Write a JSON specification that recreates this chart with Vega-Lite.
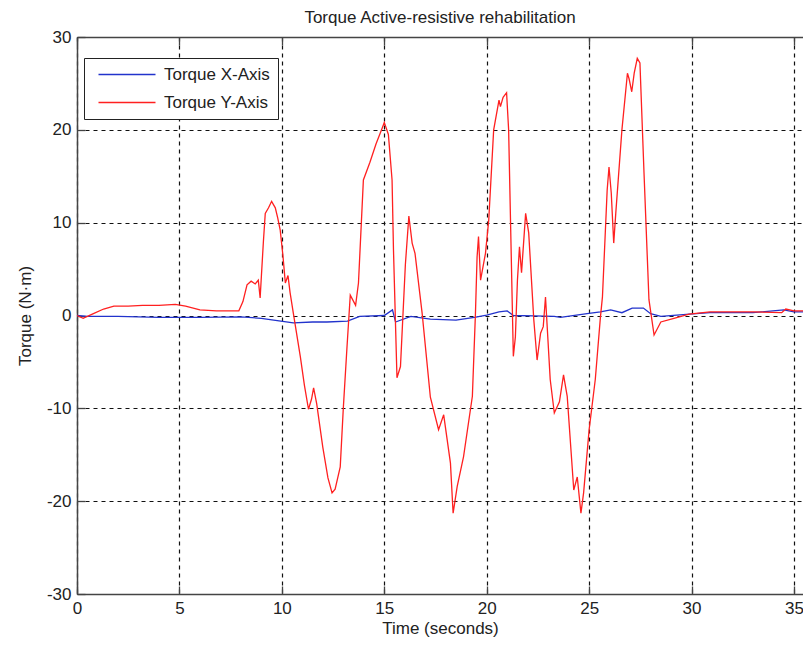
{
  "$schema": "https://vega.github.io/schema/vega-lite/v6.json",
  "width": 726,
  "height": 557,
  "autosize": {"type": "none"},
  "padding": {"left": 77, "top": 37, "right": 0, "bottom": 54},
  "background": "white",
  "title": {"text": "Torque Active-resistive rehabilitation", "font": "Liberation Sans", "fontSize": 17, "fontWeight": "normal", "color": "#222", "anchor": "middle", "offset": 1},
  "config": {
    "view": {"stroke": null},
    "axis": {"labelFont": "Liberation Sans", "labelFontSize": 17, "labelColor": "#222", "titleFont": "Liberation Sans", "titleFontSize": 17, "titleFontWeight": "normal", "titleColor": "#222", "domainColor": "#444", "domainWidth": 1.5, "tickColor": "#444", "tickWidth": 1.3, "gridColor": "#111", "gridDash": [4, 4], "gridWidth": 1.2, "gridOpacity": 1}
  },
  "data": {"values": [
    {"s": "Torque X-Axis", "t": 0, "v": 0},
    {"s": "Torque X-Axis", "t": 0.5, "v": -0.1},
    {"s": "Torque X-Axis", "t": 2, "v": -0.1},
    {"s": "Torque X-Axis", "t": 4, "v": -0.2},
    {"s": "Torque X-Axis", "t": 6, "v": -0.2},
    {"s": "Torque X-Axis", "t": 8, "v": -0.15},
    {"s": "Torque X-Axis", "t": 9, "v": -0.3},
    {"s": "Torque X-Axis", "t": 9.6, "v": -0.5},
    {"s": "Torque X-Axis", "t": 10.56, "v": -0.8},
    {"s": "Torque X-Axis", "t": 11.5, "v": -0.7},
    {"s": "Torque X-Axis", "t": 12.2, "v": -0.7},
    {"s": "Torque X-Axis", "t": 13.2, "v": -0.6},
    {"s": "Torque X-Axis", "t": 13.8, "v": -0.1},
    {"s": "Torque X-Axis", "t": 15.0, "v": 0},
    {"s": "Torque X-Axis", "t": 15.4, "v": 0.6},
    {"s": "Torque X-Axis", "t": 15.55, "v": -0.7},
    {"s": "Torque X-Axis", "t": 16.3, "v": -0.1},
    {"s": "Torque X-Axis", "t": 17.25, "v": -0.4},
    {"s": "Torque X-Axis", "t": 18.5, "v": -0.5},
    {"s": "Torque X-Axis", "t": 19.4, "v": -0.2},
    {"s": "Torque X-Axis", "t": 20.0, "v": 0.05},
    {"s": "Torque X-Axis", "t": 20.6, "v": 0.4},
    {"s": "Torque X-Axis", "t": 21.0, "v": 0.5},
    {"s": "Torque X-Axis", "t": 21.3, "v": 0},
    {"s": "Torque X-Axis", "t": 22.3, "v": -0.05},
    {"s": "Torque X-Axis", "t": 23.3, "v": -0.1},
    {"s": "Torque X-Axis", "t": 23.6, "v": -0.2},
    {"s": "Torque X-Axis", "t": 24.9, "v": 0.2},
    {"s": "Torque X-Axis", "t": 25.55, "v": 0.4},
    {"s": "Torque X-Axis", "t": 26.05, "v": 0.6},
    {"s": "Torque X-Axis", "t": 26.6, "v": 0.3},
    {"s": "Torque X-Axis", "t": 27.1, "v": 0.8},
    {"s": "Torque X-Axis", "t": 27.65, "v": 0.8},
    {"s": "Torque X-Axis", "t": 28.0, "v": 0.2},
    {"s": "Torque X-Axis", "t": 28.5, "v": -0.1},
    {"s": "Torque X-Axis", "t": 29.9, "v": 0.15},
    {"s": "Torque X-Axis", "t": 30.9, "v": 0.3},
    {"s": "Torque X-Axis", "t": 33, "v": 0.3},
    {"s": "Torque X-Axis", "t": 34.5, "v": 0.6},
    {"s": "Torque X-Axis", "t": 35, "v": 0.4},
    {"s": "Torque X-Axis", "t": 35.44, "v": 0.4},
    {"s": "Torque Y-Axis", "t": 0, "v": 0},
    {"s": "Torque Y-Axis", "t": 0.3, "v": -0.3},
    {"s": "Torque Y-Axis", "t": 0.8, "v": 0.2},
    {"s": "Torque Y-Axis", "t": 1.3, "v": 0.7},
    {"s": "Torque Y-Axis", "t": 1.8, "v": 1.0},
    {"s": "Torque Y-Axis", "t": 2.5, "v": 1.0},
    {"s": "Torque Y-Axis", "t": 3.2, "v": 1.1},
    {"s": "Torque Y-Axis", "t": 4.0, "v": 1.1},
    {"s": "Torque Y-Axis", "t": 4.8, "v": 1.2},
    {"s": "Torque Y-Axis", "t": 5.3, "v": 1.0},
    {"s": "Torque Y-Axis", "t": 6.0, "v": 0.6},
    {"s": "Torque Y-Axis", "t": 6.8, "v": 0.5},
    {"s": "Torque Y-Axis", "t": 7.5, "v": 0.5},
    {"s": "Torque Y-Axis", "t": 7.9, "v": 0.5},
    {"s": "Torque Y-Axis", "t": 8.1, "v": 1.5},
    {"s": "Torque Y-Axis", "t": 8.3, "v": 3.3},
    {"s": "Torque Y-Axis", "t": 8.5, "v": 3.7},
    {"s": "Torque Y-Axis", "t": 8.7, "v": 3.4},
    {"s": "Torque Y-Axis", "t": 8.85, "v": 3.8},
    {"s": "Torque Y-Axis", "t": 8.94, "v": 1.9},
    {"s": "Torque Y-Axis", "t": 9.0, "v": 4.2},
    {"s": "Torque Y-Axis", "t": 9.1, "v": 8},
    {"s": "Torque Y-Axis", "t": 9.19, "v": 11},
    {"s": "Torque Y-Axis", "t": 9.35, "v": 11.6},
    {"s": "Torque Y-Axis", "t": 9.5, "v": 12.3},
    {"s": "Torque Y-Axis", "t": 9.68, "v": 11.6},
    {"s": "Torque Y-Axis", "t": 9.8, "v": 10.5},
    {"s": "Torque Y-Axis", "t": 9.92, "v": 9.2},
    {"s": "Torque Y-Axis", "t": 10.05, "v": 6.5},
    {"s": "Torque Y-Axis", "t": 10.17, "v": 3.5},
    {"s": "Torque Y-Axis", "t": 10.3, "v": 4.3},
    {"s": "Torque Y-Axis", "t": 10.4, "v": 2.5},
    {"s": "Torque Y-Axis", "t": 10.56, "v": 0.25},
    {"s": "Torque Y-Axis", "t": 10.9, "v": -4.4},
    {"s": "Torque Y-Axis", "t": 11.1, "v": -7.5},
    {"s": "Torque Y-Axis", "t": 11.3, "v": -10.1},
    {"s": "Torque Y-Axis", "t": 11.45, "v": -9.0},
    {"s": "Torque Y-Axis", "t": 11.55, "v": -7.8},
    {"s": "Torque Y-Axis", "t": 11.7, "v": -9.5},
    {"s": "Torque Y-Axis", "t": 12.0, "v": -14.2},
    {"s": "Torque Y-Axis", "t": 12.25, "v": -17.5},
    {"s": "Torque Y-Axis", "t": 12.45, "v": -19.1},
    {"s": "Torque Y-Axis", "t": 12.6, "v": -18.7},
    {"s": "Torque Y-Axis", "t": 12.85, "v": -16.3},
    {"s": "Torque Y-Axis", "t": 13.0, "v": -10},
    {"s": "Torque Y-Axis", "t": 13.18, "v": -3.4},
    {"s": "Torque Y-Axis", "t": 13.34, "v": 2.2},
    {"s": "Torque Y-Axis", "t": 13.6, "v": 1.1},
    {"s": "Torque Y-Axis", "t": 13.74, "v": 3.5},
    {"s": "Torque Y-Axis", "t": 13.98, "v": 14.6},
    {"s": "Torque Y-Axis", "t": 14.3, "v": 16.5},
    {"s": "Torque Y-Axis", "t": 14.6, "v": 18.5},
    {"s": "Torque Y-Axis", "t": 14.9, "v": 20.2},
    {"s": "Torque Y-Axis", "t": 15.0, "v": 20.8},
    {"s": "Torque Y-Axis", "t": 15.2, "v": 19.5},
    {"s": "Torque Y-Axis", "t": 15.38, "v": 14.6},
    {"s": "Torque Y-Axis", "t": 15.45, "v": 7},
    {"s": "Torque Y-Axis", "t": 15.62, "v": -6.7},
    {"s": "Torque Y-Axis", "t": 15.79, "v": -5.5},
    {"s": "Torque Y-Axis", "t": 16.03, "v": 5.5},
    {"s": "Torque Y-Axis", "t": 16.2, "v": 10.7},
    {"s": "Torque Y-Axis", "t": 16.36, "v": 7.8},
    {"s": "Torque Y-Axis", "t": 16.5, "v": 6.7},
    {"s": "Torque Y-Axis", "t": 16.85, "v": 0.2},
    {"s": "Torque Y-Axis", "t": 17.25, "v": -8.8},
    {"s": "Torque Y-Axis", "t": 17.65, "v": -12.3},
    {"s": "Torque Y-Axis", "t": 17.9, "v": -10.7},
    {"s": "Torque Y-Axis", "t": 18.23, "v": -15.9},
    {"s": "Torque Y-Axis", "t": 18.36, "v": -21.3},
    {"s": "Torque Y-Axis", "t": 18.56, "v": -18.4},
    {"s": "Torque Y-Axis", "t": 18.87, "v": -15.2},
    {"s": "Torque Y-Axis", "t": 19.3, "v": -8.7},
    {"s": "Torque Y-Axis", "t": 19.45, "v": 0.2},
    {"s": "Torque Y-Axis", "t": 19.53, "v": 6.3},
    {"s": "Torque Y-Axis", "t": 19.6, "v": 8.5},
    {"s": "Torque Y-Axis", "t": 19.7, "v": 3.8},
    {"s": "Torque Y-Axis", "t": 19.94, "v": 6.7},
    {"s": "Torque Y-Axis", "t": 20.1, "v": 10.3},
    {"s": "Torque Y-Axis", "t": 20.34, "v": 20},
    {"s": "Torque Y-Axis", "t": 20.6, "v": 23.2},
    {"s": "Torque Y-Axis", "t": 20.67, "v": 22.5},
    {"s": "Torque Y-Axis", "t": 20.8, "v": 23.5},
    {"s": "Torque Y-Axis", "t": 20.97, "v": 24},
    {"s": "Torque Y-Axis", "t": 21.07, "v": 20},
    {"s": "Torque Y-Axis", "t": 21.3, "v": -4.4},
    {"s": "Torque Y-Axis", "t": 21.4, "v": -2.3},
    {"s": "Torque Y-Axis", "t": 21.5, "v": 3.8},
    {"s": "Torque Y-Axis", "t": 21.6, "v": 7.4},
    {"s": "Torque Y-Axis", "t": 21.7, "v": 4.6},
    {"s": "Torque Y-Axis", "t": 21.9, "v": 11},
    {"s": "Torque Y-Axis", "t": 22.05, "v": 8.9},
    {"s": "Torque Y-Axis", "t": 22.3, "v": -0.5},
    {"s": "Torque Y-Axis", "t": 22.46, "v": -4.8},
    {"s": "Torque Y-Axis", "t": 22.63, "v": -1.9},
    {"s": "Torque Y-Axis", "t": 22.76, "v": -1.2},
    {"s": "Torque Y-Axis", "t": 22.87, "v": 2},
    {"s": "Torque Y-Axis", "t": 23.1, "v": -6.9},
    {"s": "Torque Y-Axis", "t": 23.3, "v": -10.5},
    {"s": "Torque Y-Axis", "t": 23.55, "v": -9.3},
    {"s": "Torque Y-Axis", "t": 23.75, "v": -6.4},
    {"s": "Torque Y-Axis", "t": 23.93, "v": -8.7},
    {"s": "Torque Y-Axis", "t": 24.25, "v": -18.8},
    {"s": "Torque Y-Axis", "t": 24.42, "v": -17.4},
    {"s": "Torque Y-Axis", "t": 24.6, "v": -21.3},
    {"s": "Torque Y-Axis", "t": 24.73, "v": -19.1},
    {"s": "Torque Y-Axis", "t": 25.0, "v": -12.3},
    {"s": "Torque Y-Axis", "t": 25.3, "v": -6.9},
    {"s": "Torque Y-Axis", "t": 25.55, "v": -0.2},
    {"s": "Torque Y-Axis", "t": 25.65, "v": 2},
    {"s": "Torque Y-Axis", "t": 25.88, "v": 13.5},
    {"s": "Torque Y-Axis", "t": 25.97, "v": 16},
    {"s": "Torque Y-Axis", "t": 26.08, "v": 13.2},
    {"s": "Torque Y-Axis", "t": 26.2, "v": 7.8},
    {"s": "Torque Y-Axis", "t": 26.3, "v": 11},
    {"s": "Torque Y-Axis", "t": 26.6, "v": 20},
    {"s": "Torque Y-Axis", "t": 26.87, "v": 26.1},
    {"s": "Torque Y-Axis", "t": 26.95, "v": 25.5},
    {"s": "Torque Y-Axis", "t": 27.08, "v": 24.1},
    {"s": "Torque Y-Axis", "t": 27.2, "v": 26.1},
    {"s": "Torque Y-Axis", "t": 27.35, "v": 27.7},
    {"s": "Torque Y-Axis", "t": 27.48, "v": 27.2},
    {"s": "Torque Y-Axis", "t": 27.68, "v": 15.3},
    {"s": "Torque Y-Axis", "t": 27.92, "v": 1.7},
    {"s": "Torque Y-Axis", "t": 28.17, "v": -2.1},
    {"s": "Torque Y-Axis", "t": 28.5, "v": -0.7},
    {"s": "Torque Y-Axis", "t": 29.14, "v": -0.3},
    {"s": "Torque Y-Axis", "t": 29.88, "v": 0.15},
    {"s": "Torque Y-Axis", "t": 30.9, "v": 0.4},
    {"s": "Torque Y-Axis", "t": 33, "v": 0.4},
    {"s": "Torque Y-Axis", "t": 34.4, "v": 0.3},
    {"s": "Torque Y-Axis", "t": 34.6, "v": 0.7},
    {"s": "Torque Y-Axis", "t": 35, "v": 0.5},
    {"s": "Torque Y-Axis", "t": 35.44, "v": 0.5}
  ]},
  "layer": [
    {
      "mark": {"type": "line", "strokeWidth": 1.3},
      "encoding": {
        "x": {"field": "t", "type": "quantitative", "scale": {"domain": [0, 35.44], "nice": false, "zero": false}, "axis": {"title": "Time (seconds)", "values": [0, 5, 10, 15, 20, 25, 30, 35], "grid": true, "tickSize": -8, "labelPadding": 14, "titlePadding": 4, "labelFlush": false}},
        "y": {"field": "v", "type": "quantitative", "scale": {"domain": [-30, 30], "nice": false}, "axis": {"title": "Torque (N·m)", "values": [-30, -20, -10, 0, 10, 20, 30], "grid": true, "tickSize": -8, "labelPadding": 14, "titlePadding": 12, "labelFlush": false, "labelExpr": "replace(datum.label, '\u2212', '-')"}},
        "color": {"field": "s", "type": "nominal", "scale": {"domain": ["Torque X-Axis", "Torque Y-Axis"], "range": ["#2233cc", "#ff2020"]}, "legend": {"title": null, "orient": "none", "legendX": 7, "legendY": 21, "padding": 8, "strokeColor": "#222", "fillColor": "white", "symbolType": "M-0.4,0H11", "symbolSize": 100, "symbolStrokeWidth": 1.3, "labelOffset": 55, "labelFont": "Liberation Sans", "labelFontSize": 17, "labelColor": "#222", "rowPadding": 10}}
      }
    },
    {
      "mark": {"type": "line", "opacity": 0},
      "encoding": {
        "x": {"field": "t", "type": "quantitative", "axis": {"orient": "top", "title": null, "labels": false, "values": [0, 5, 10, 15, 20, 25, 30, 35], "grid": false, "tickSize": -8}},
        "y": {"field": "v", "type": "quantitative"}
      }
    }
  ],
  "resolve": {"axis": {"x": "independent"}}
}
